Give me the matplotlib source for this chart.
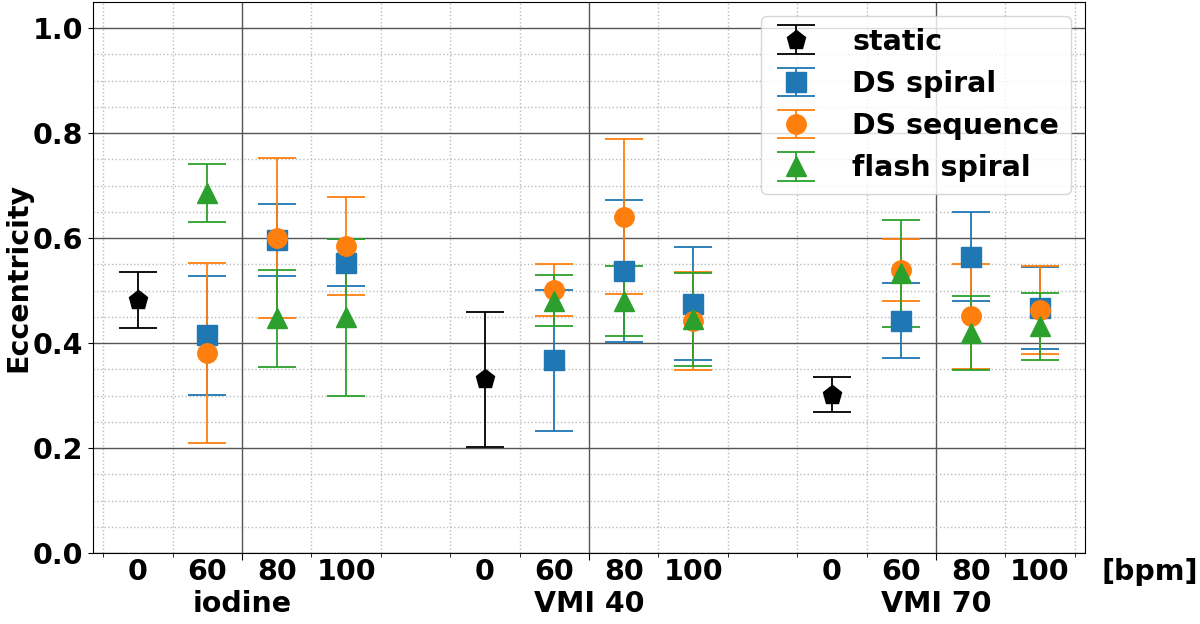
import matplotlib.pyplot as plt
import numpy as np

groups = ['iodine', 'VMI 40', 'VMI 70']
bpm = ['0', '60', '80', '100']

static_mean = [0.482, 0.331, 0.302]
static_err = [0.054, 0.129, 0.033]
# order: iodine 60/80/100, VMI 40 60/80/100, VMI 70 60/80/100
ds_spiral_mean = [0.415, 0.597, 0.553, 0.367, 0.538, 0.475, 0.443, 0.565, 0.467]
ds_spiral_err = [0.113, 0.069, 0.045, 0.134, 0.135, 0.108, 0.071, 0.084, 0.078]
ds_seq_mean = [0.381, 0.600, 0.585, 0.501, 0.641, 0.442, 0.540, 0.451, 0.463]
ds_seq_err = [0.171, 0.152, 0.093, 0.049, 0.147, 0.093, 0.059, 0.100, 0.083]
flash_mean = [0.686, 0.447, 0.449, 0.481, 0.480, 0.445, 0.533, 0.419, 0.432]
flash_err = [0.055, 0.092, 0.150, 0.048, 0.066, 0.088, 0.102, 0.070, 0.064]

gap = 5
x_static = np.arange(len(groups)) * gap
x_moving = np.concatenate([np.arange(1, 4) + g * gap for g in range(len(groups))])

plt.rcParams['font.family'] = 'DejaVu Sans'
plt.rcParams['font.weight'] = 'bold'
fs = 20.5

fig = plt.figure(figsize=(12, 6.24), dpi=100)
ax = fig.add_axes([0.0775, 0.1138, 0.8265, 0.883])

ms = 14
cs = 14
kw = dict(linestyle='none', capsize=cs, elinewidth=1.3, capthick=1.3, markersize=ms)
ax.errorbar(x_static, static_mean, yerr=static_err, fmt='p', color='black', label='static', **kw)
ax.errorbar(x_moving, ds_spiral_mean, yerr=ds_spiral_err, fmt='s', color='#1f77b4', label='DS spiral', **kw)
ax.errorbar(x_moving, ds_seq_mean, yerr=ds_seq_err, fmt='o', color='#ff7f0e', label='DS sequence', **kw)
ax.errorbar(x_moving, flash_mean, yerr=flash_err, fmt='^', color='#2ca02c', label='flash spiral', **kw)

ax.set_xlim(-0.648, 13.645)
ax.set_ylim(0, 1.05)

# group labels on the major ticks, separators elsewhere as minor ticks
major = x_static + 1.5
minor = [v for v in np.arange(-0.5, 14, 1.0) if not np.any(np.isclose(v, major))]
ax.set_xticks(major)
ax.set_xticklabels(groups, fontsize=fs, fontweight='bold')
ax.set_xticks(minor, minor=True)
ax.tick_params(axis='x', which='major', pad=22, length=5)
ax.tick_params(axis='x', which='minor', length=3)

ax.set_yticks(np.arange(0, 1.01, 0.2))
ax.set_yticks(np.arange(0, 1.05, 0.05), minor=True)
ax.set_yticklabels([f'{v:.1f}' for v in np.arange(0, 1.01, 0.2)], fontsize=fs, fontweight='bold')
ax.tick_params(axis='y', which='minor', length=0)

ax.grid(True, which='major', color='#555555', linewidth=1.0)
ax.grid(True, which='minor', color='#bbbbbb', linestyle=':', linewidth=1.0)
ax.set_axisbelow(True)

trans = ax.get_xaxis_transform()
for g in range(len(groups)):
    for i, b in enumerate(bpm):
        ax.text(x_static[g] + i, -0.035, b, transform=trans, ha='center', va='center',
                fontsize=fs, fontweight='bold', clip_on=False)
ax.text(14.58, -0.035, '[bpm]', transform=trans, ha='center', va='center',
        fontsize=fs, fontweight='bold', clip_on=False)

ax.set_ylabel('Eccentricity', fontsize=fs, fontweight='bold', labelpad=0)

ax.legend(loc='upper right', prop={'weight': 'bold', 'size': fs},
          handlelength=1.65, handletextpad=1.15)

fig.savefig('out.png', dpi=100)
